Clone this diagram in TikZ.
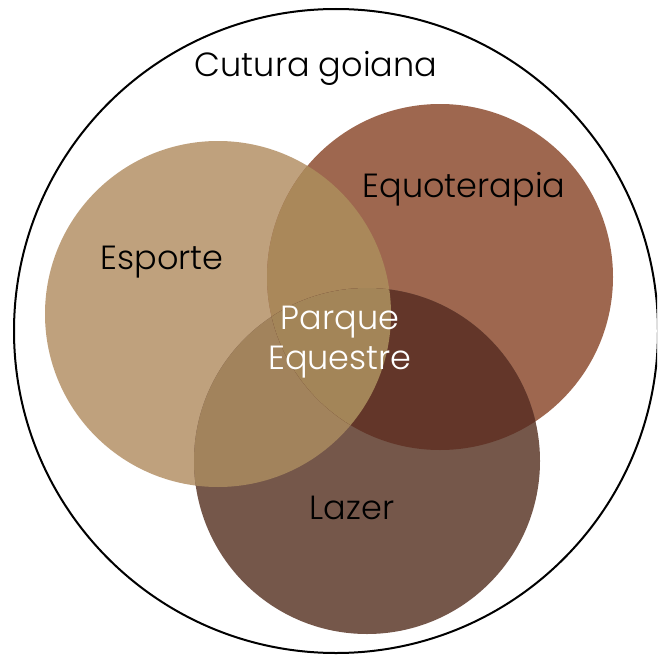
\documentclass[tikz,border=0pt]{standalone}
\usepackage{fontspec}
\setmainfont{Poppins}[UprightFont=* Light]
\begin{document}
\begin{tikzpicture}[x=1pt,y=-1pt,
  lbl/.style={anchor=base, inner sep=0pt, font=\fontsize{33.5}{40}\selectfont},
  setc/.style={circle, minimum size=346pt, inner sep=0pt, draw=none}]
\definecolor{cEsp}{HTML}{BFA17D}
\definecolor{cEqu}{HTML}{9E674F}
\definecolor{cLaz}{HTML}{75574A}
\definecolor{cEQ}{HTML}{AA885A}
\definecolor{cEL}{HTML}{A2835C}
\definecolor{cQL}{HTML}{633629}
\definecolor{cEQL}{HTML}{A38558}
\fill[white] (0,0) rectangle (657,661);
\useasboundingbox (0,0) rectangle (657,661);
\begin{scope}
\clip (0,0) rectangle (657,661);
\node[circle, minimum size=644pt, inner sep=0pt, draw=black, line width=2pt] (outer) at (336,331) {};
\end{scope}
\node[setc, fill=cEsp] (esp) at (218,314) {};
\node[setc, fill=cEqu] (equ) at (440,277) {};
\node[setc, fill=cLaz] (laz) at (367,461) {};
% pairwise overlaps
\begin{scope}
\clip (218,314) circle (173);
\fill[cEQ] (440,277) circle (173);
\end{scope}
\begin{scope}
\clip (218,314) circle (173);
\fill[cEL] (367,461) circle (173);
\end{scope}
\begin{scope}
\clip (440,277) circle (173);
\fill[cQL] (367,461) circle (173);
\end{scope}
\begin{scope}
\clip (218,314) circle (173);
\clip (440,277) circle (173);
\fill[cEQL] (367,461) circle (173);
\end{scope}
\node[lbl] (tcult) at (316,77) {Cutura goiana};
\node[lbl] (tesp) at (162,269) {Esporte};
\node[lbl] (tequ) at (464,197) {Equoterapia};
\node[lbl, text=white] (tpar) at (340,329) {Parque};
\node[lbl, text=white] (tequ2) at (340,369) {Equestre};
\node[lbl] (tlaz) at (352,519) {Lazer};
\end{tikzpicture}
\end{document}
